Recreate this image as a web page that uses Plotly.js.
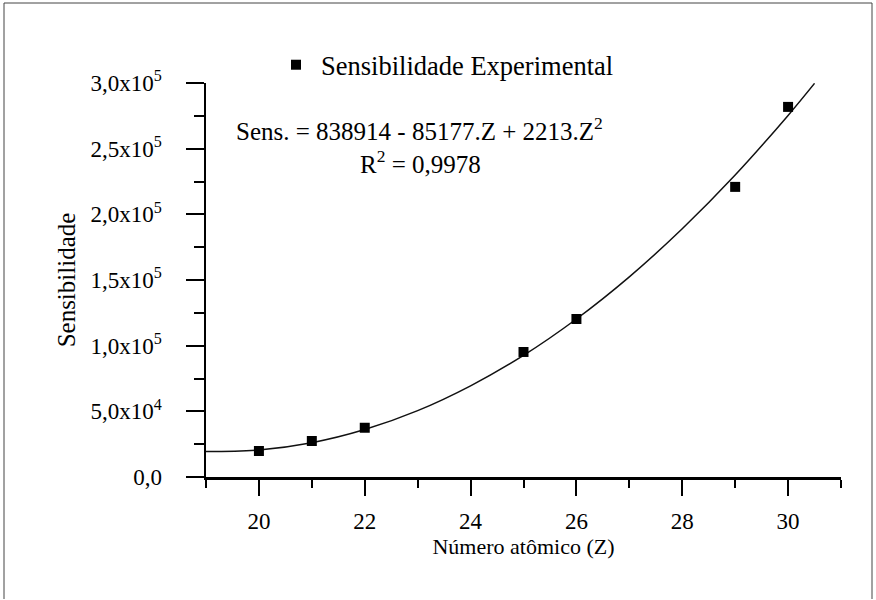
<!DOCTYPE html>
<html>
<head>
<meta charset="utf-8">
<script src="https://cdn.plot.ly/plotly-3.0.1.min.js"></script>
<style>html,body{margin:0;padding:0;background:#fff;}#chart{width:876px;height:600px;}</style>
</head>
<body>
<div id="chart"></div>
<script>
// Experimental points
var atomicNumber = [20, 21, 22, 25, 26, 29, 30];
var sensitivity = [19800, 27400, 37500, 95200, 120300, 220900, 281800];

// Fitted curve
var fitX = [19, 20, 21, 22, 23, 24, 25, 26, 27, 28, 29, 30, 30.5];
var fitY = [19400, 20600, 26100, 36100, 50500, 69400, 92600, 120300, 152400, 189000, 229900, 275300, 299700];

// Axis tick labels
var yTickVals = [0, 50000, 100000, 150000, 200000, 250000, 300000];
var yTickText = ["0,0", "5,0x10<sup>4</sup>", "1,0x10<sup>5</sup>", "1,5x10<sup>5</sup>", "2,0x10<sup>5</sup>", "2,5x10<sup>5</sup>", "3,0x10<sup>5</sup>"];
var xTickVals = [20, 22, 24, 26, 28, 30];
var xTickText = ["20", "22", "24", "26", "28", "30"];

var legendLabel = "Sensibilidade Experimental";
var equationText = "Sens. = 838914 - 85177.Z + 2213.Z<sup>2</sup>";
var r2Text = "R<sup>2</sup> = 0,9978";
var xTitle = "Número atômico (Z)";
var yTitle = "Sensibilidade";

var FONT = "'Liberation Serif'";

var traces = [
  {
    x: fitX, y: fitY, type: "scatter", mode: "lines",
    line: {color: "#111", width: 1.5, shape: "spline"},
    showlegend: false, hoverinfo: "skip"
  },
  {
    x: atomicNumber, y: sensitivity, type: "scatter", mode: "markers",
    name: legendLabel,
    marker: {symbol: "square", size: 10, color: "#000"}
  }
];

var L = 206, R = 841, T = 83, B = 477;
function px(xp) { return (xp - L) / (R - L); }
function py(yp) { return (B - yp) / (B - T); }

var layout = {
  width: 876, height: 600,
  margin: {l: L, r: 876 - R, t: T, b: 600 - B},
  paper_bgcolor: "#fff", plot_bgcolor: "#fff",
  font: {family: FONT, color: "#000", size: 22},
  showlegend: true,
  legend: {
    x: px(271), y: py(41), xanchor: "left", yanchor: "top",
    bgcolor: "rgba(0,0,0,0)", borderwidth: 0,
    font: {family: FONT, size: 26.5, color: "#000"},
    itemwidth: 40
  },
  xaxis: {
    range: [19, 31], showgrid: false, zeroline: false,
    showline: true, linecolor: "#000", linewidth: 2.5,
    ticks: "outside", ticklen: 16, tickwidth: 2, tickcolor: "#000",
    tickmode: "array", tickvals: xTickVals, ticktext: xTickText,
    ticklabelstandoff: 6,
    minor: {tickmode: "linear", tick0: 19, dtick: 1, ticks: "outside", ticklen: 8, tickwidth: 2, tickcolor: "#000"},
    tickfont: {family: FONT, size: 23},
    title: {text: xTitle, font: {family: FONT, size: 22}, standoff: 0}
  },
  yaxis: {
    range: [0, 300000], showgrid: false, zeroline: false,
    showline: true, linecolor: "#000", linewidth: 2.5,
    ticks: "outside", ticklen: 18, tickwidth: 2, tickcolor: "#000",
    tickmode: "array", tickvals: yTickVals, ticktext: yTickText,
    ticklabelstandoff: 19,
    minor: {tickmode: "linear", tick0: 0, dtick: 25000, ticks: "outside", ticklen: 10, tickwidth: 2, tickcolor: "#000"},
    tickfont: {family: FONT, size: 23},
    title: {text: yTitle, font: {family: FONT, size: 25}, standoff: 8}
  },
  annotations: [
    {xref: "paper", yref: "paper", x: px(419), y: py(129), text: equationText, showarrow: false, xanchor: "center", yanchor: "middle", font: {family: FONT, size: 25}},
    {xref: "paper", yref: "paper", x: px(420), y: py(162), text: r2Text, showarrow: false, xanchor: "center", yanchor: "middle", font: {family: FONT, size: 25}}
  ],
  shapes: [
    {type: "line", xref: "paper", yref: "paper", x0: px(4), x1: px(4), y0: py(3), y1: py(599), line: {color: "#444", width: 1}},
    {type: "line", xref: "paper", yref: "paper", x0: px(4), x1: px(872), y0: py(3), y1: py(3), line: {color: "#444", width: 1}},
    {type: "line", xref: "paper", yref: "paper", x0: px(872), x1: px(872), y0: py(3), y1: py(599), line: {color: "#444", width: 1}}
  ]
};

Plotly.newPlot("chart", traces, layout, {displayModeBar: false, staticPlot: true});
</script>
</body>
</html>
